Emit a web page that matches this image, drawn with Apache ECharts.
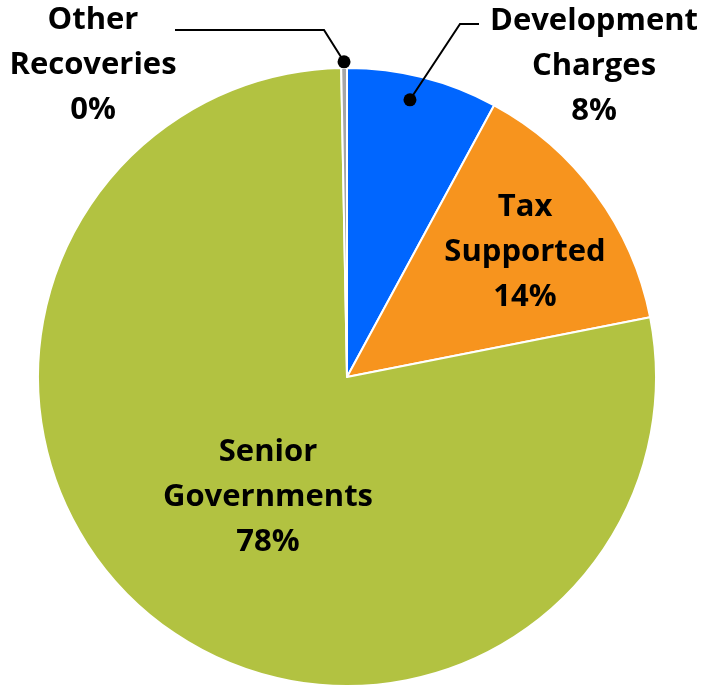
<!DOCTYPE html>
<html><head><meta charset="utf-8">
<script src="https://cdn.jsdelivr.net/npm/echarts@6/dist/echarts.min.js"></script>
<style>html,body{margin:0;padding:0;background:#fff}#c{width:703px;height:686px}</style>
</head><body><div id="c"></div>
<script>
// Data
const categories = ['Development Charges', 'Tax Supported', 'Senior Governments', 'Other Recoveries'];
const labelText = ['Development\nCharges', 'Tax\nSupported', 'Senior\nGovernments', 'Other\nRecoveries'];
const values = [7.9, 14.0, 77.8, 0.3];
const colors = ['#0066FF', '#F7941E', '#B2C241', '#A6A6A6'];

// Layout
const CX = 347, CY = 377, R = 309;
const labelPos = [[594, 66], [525, 252], [268, 497], [93, 65]];

const chart = echarts.init(document.getElementById('c'), null, {renderer: 'canvas'});

const total = values.reduce((a, b) => a + b, 0);
function pt(frac, rr) { // frac of full circle clockwise from top
  const a = frac * 2 * Math.PI;
  return [CX + rr * Math.sin(a), CY - rr * Math.cos(a)];
}
let cum = 0; const starts = [];
values.forEach(v => { starts.push(cum); cum += v / total; });

// leader dots
const devDot = pt(starts[0] + (values[0] / total) * 0.45, R * 0.92);
const othDot = pt(starts[3] + (values[3] / total) * 0.5, R * 1.02);

chart.setOption({
  animation: false,
  series: [{
    type: 'pie',
    center: [CX, CY],
    radius: [0, R],
    startAngle: 90,
    clockwise: true,
    z: 2,
    data: categories.map((c, i) => ({ name: c, value: values[i], itemStyle: { color: colors[i] } })),
    itemStyle: { borderColor: '#fff', borderWidth: 2 },
    label: {
      show: true,
      position: 'inside',
      formatter: p => labelText[p.dataIndex] + '\n' + Math.round(p.percent) + '%',
      fontFamily: 'Open Sans',
      fontWeight: 'bold',
      fontSize: 31,
      lineHeight: 45,
      color: '#000',
      align: 'center'
    },
    labelLine: { show: false },
    labelLayout: p => ({ x: labelPos[p.dataIndex][0], y: labelPos[p.dataIndex][1], align: 'center', verticalAlign: 'middle' })
  }],
  graphic: { elements: [
    { type: 'polyline', z: 100, shape: { points: [devDot, [460, 24], [479, 24]] }, style: { stroke: '#000', lineWidth: 2, fill: null } },
    { type: 'circle', z: 100, shape: { cx: devDot[0], cy: devDot[1], r: 6.5 }, style: { fill: '#000' } },
    { type: 'polyline', z: 100, shape: { points: [othDot, [324, 30], [175, 30]] }, style: { stroke: '#000', lineWidth: 2, fill: null } },
    { type: 'circle', z: 100, shape: { cx: othDot[0], cy: othDot[1], r: 6.5 }, style: { fill: '#000' } }
  ]}
});
</script></body></html>
